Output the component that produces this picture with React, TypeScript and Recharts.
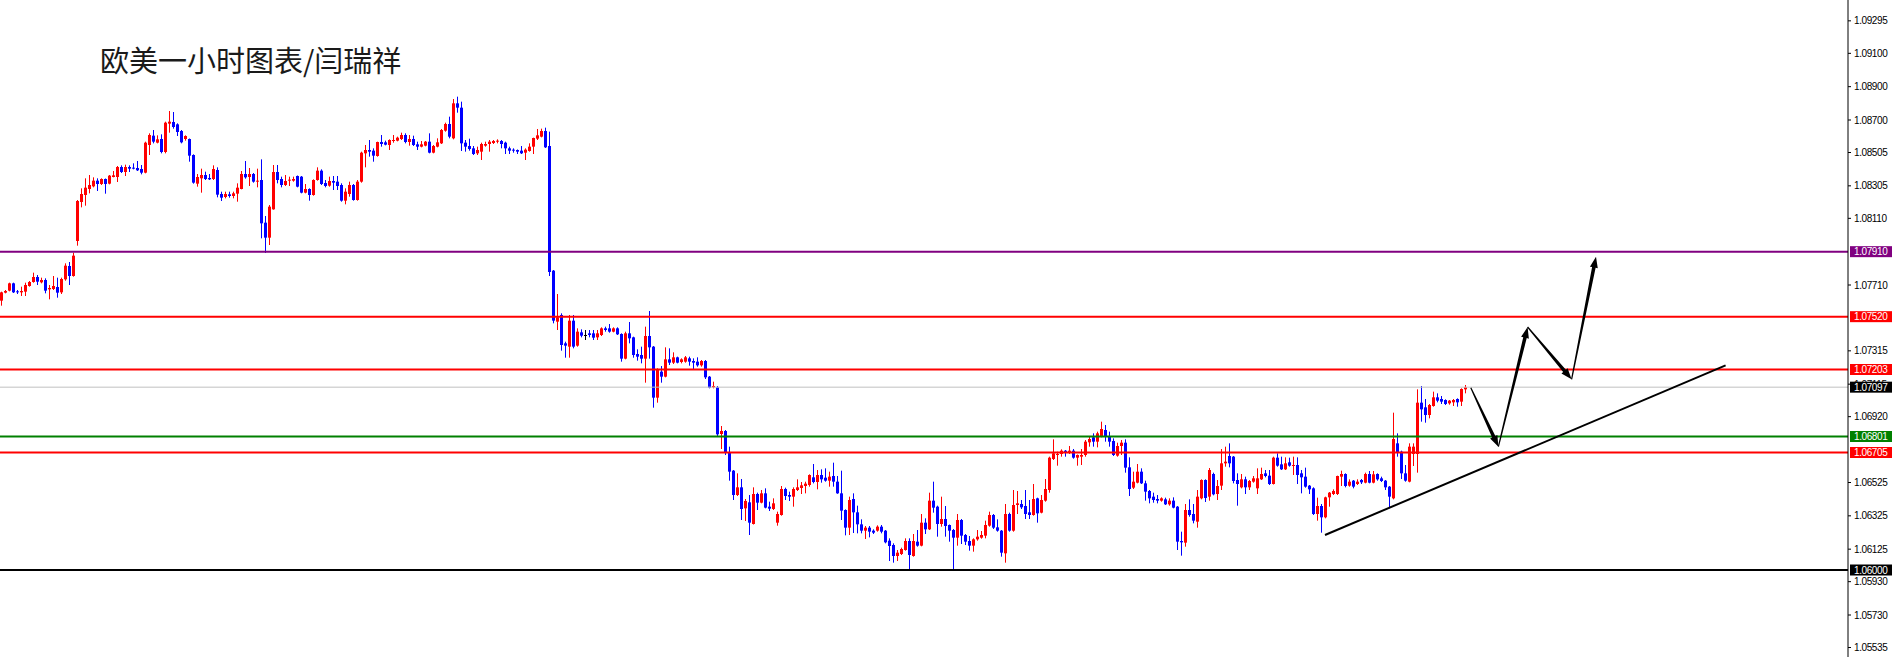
import React from 'react';
import { ComposedChart, Bar, XAxis, YAxis, ReferenceLine } from 'recharts';

// EURUSD H1 quotes in points (1 point = 0.00001), each row [open, high, low, close]
const rallyStart = [
  [107616, 107670, 107586, 107666], [107664, 107680, 107660, 107674], [107676, 107724, 107672, 107720],
  [107720, 107724, 107662, 107666], [107672, 107680, 107656, 107666], [107666, 107700, 107644, 107674],
  [107670, 107724, 107644, 107710], [107704, 107734, 107700, 107728], [107728, 107784, 107724, 107758],
  [107758, 107770, 107710, 107730], [107726, 107754, 107720, 107740], [107740, 107750, 107660, 107676],
  [107684, 107710, 107624, 107692], [107686, 107764, 107680, 107704], [107698, 107754, 107634, 107664],
  [107666, 107754, 107656, 107746], [107744, 107840, 107736, 107826], [107824, 107848, 107710, 107764],
  [107764, 107904, 107760, 107886], [107974, 108220, 107946, 108214], [108208, 108290, 108176, 108256],
  [108250, 108350, 108186, 108294], [108286, 108370, 108260, 108310], [108302, 108356, 108296, 108336],
  [108336, 108350, 108274, 108316], [108316, 108350, 108310, 108346], [108346, 108349, 108258, 108316],
  [108318, 108370, 108314, 108366], [108358, 108394, 108356, 108368], [108358, 108424, 108328, 108418],
  [108418, 108428, 108382, 108388], [108388, 108432, 108364, 108418], [108418, 108428, 108388, 108408],
  [108414, 108440, 108404, 108408], [108412, 108454, 108394, 108398], [108406, 108430, 108374, 108384],
  [108384, 108570, 108380, 108564], [108550, 108620, 108490, 108610], [108606, 108640, 108560, 108570],
  [108564, 108608, 108560, 108584], [108586, 108614, 108500, 108508], [108508, 108690, 108500, 108684],
  [108678, 108754, 108624, 108690], [108688, 108748, 108648, 108658], [108674, 108680, 108604, 108628],
  [108634, 108640, 108560, 108566], [108586, 108608, 108576, 108604], [108586, 108589, 108450, 108486],
  [108490, 108494, 108318, 108324], [108318, 108376, 108300, 108358], [108350, 108408, 108264, 108370],
  [108370, 108390, 108340, 108346], [108352, 108376, 108340, 108344], [108346, 108428, 108340, 108406],
  [108400, 108416, 108236, 108252], [108256, 108270, 108214, 108234], [108238, 108270, 108230, 108256],
  [108254, 108270, 108234, 108244], [108244, 108270, 108230, 108260], [108258, 108320, 108210, 108294],
  [108286, 108394, 108284, 108376], [108376, 108454, 108348, 108356], [108358, 108412, 108304, 108376],
  [108376, 108382, 108324, 108330], [108330, 108408, 108296, 108336],
];

const topRange = [
  [108340, 108464, 107990, 108080], [108084, 108124, 107902, 107994], [107994, 108190, 107950, 108180],
  [108164, 108430, 108162, 108388], [108388, 108430, 108320, 108340], [108346, 108360, 108296, 108310],
  [108310, 108370, 108304, 108334], [108336, 108360, 108304, 108342], [108336, 108360, 108330, 108346],
  [108364, 108367, 108296, 108300], [108360, 108364, 108260, 108264], [108264, 108316, 108260, 108286],
  [108286, 108290, 108216, 108250], [108250, 108344, 108246, 108340], [108340, 108416, 108336, 108396],
  [108396, 108404, 108310, 108316], [108322, 108340, 108296, 108304], [108306, 108360, 108300, 108334],
  [108334, 108364, 108280, 108324], [108330, 108364, 108280, 108304], [108310, 108320, 108210, 108216],
  [108216, 108290, 108194, 108270], [108256, 108330, 108240, 108310], [108310, 108316, 108216, 108220],
  [108220, 108340, 108216, 108330], [108330, 108510, 108324, 108504], [108500, 108550, 108416, 108520],
  [108520, 108580, 108480, 108510], [108516, 108530, 108450, 108486], [108484, 108570, 108480, 108568],
  [108568, 108610, 108540, 108556], [108566, 108576, 108548, 108552], [108550, 108584, 108520, 108580],
  [108574, 108610, 108564, 108580], [108576, 108600, 108572, 108594], [108586, 108624, 108580, 108610],
  [108610, 108620, 108560, 108568], [108568, 108610, 108546, 108586], [108586, 108606, 108544, 108550],
  [108554, 108570, 108520, 108540], [108540, 108574, 108536, 108554], [108546, 108574, 108542, 108570],
  [108570, 108620, 108500, 108504], [108504, 108550, 108500, 108544], [108540, 108590, 108536, 108566],
  [108560, 108646, 108556, 108640], [108636, 108684, 108630, 108676], [108676, 108720, 108590, 108600],
  [108590, 108826, 108584, 108800], [108800, 108840, 108744, 108774], [108774, 108810, 108514, 108560],
  [108564, 108580, 108510, 108540], [108544, 108588, 108516, 108526], [108530, 108544, 108490, 108496],
  [108500, 108540, 108490, 108520], [108510, 108564, 108460, 108556], [108546, 108570, 108540, 108556],
  [108556, 108580, 108510, 108570], [108562, 108580, 108556, 108574], [108570, 108584, 108560, 108576],
  [108574, 108580, 108530, 108556], [108564, 108570, 108496, 108530], [108530, 108540, 108496, 108516],
  [108522, 108530, 108504, 108516], [108520, 108523, 108496, 108510], [108516, 108544, 108496, 108500],
  [108504, 108530, 108460, 108522], [108514, 108560, 108510, 108540], [108540, 108594, 108496, 108592],
  [108588, 108646, 108580, 108608], [108600, 108648, 108596, 108634], [108634, 108654, 108532, 108536],
];

const selloff = [
  [108544, 108630, 107764, 107788], [107796, 107800, 107480, 107496], [107490, 107656, 107440, 107516],
  [107530, 107540, 107316, 107350], [107360, 107370, 107274, 107346], [107340, 107530, 107274, 107496],
  [107496, 107530, 107330, 107340], [107346, 107450, 107340, 107430], [107426, 107444, 107396, 107406],
  [107410, 107440, 107380, 107410], [107420, 107440, 107396, 107410], [107420, 107440, 107380, 107394],
  [107396, 107440, 107380, 107420], [107410, 107456, 107404, 107450], [107450, 107460, 107430, 107440],
  [107450, 107476, 107424, 107430], [107430, 107456, 107426, 107450], [107450, 107456, 107410, 107414],
  [107416, 107420, 107250, 107268], [107268, 107430, 107264, 107420], [107420, 107488, 107360, 107390],
  [107396, 107400, 107274, 107290], [107296, 107324, 107256, 107280], [107290, 107340, 107240, 107268],
  [107268, 107460, 107124, 107404], [107404, 107554, 107268, 107336], [107340, 107344, 106974, 107034],
  [107034, 107210, 107004, 107200], [107190, 107224, 107124, 107160], [107160, 107336, 107156, 107264],
  [107264, 107330, 107230, 107244], [107244, 107306, 107236, 107276], [107276, 107280, 107240, 107244],
  [107248, 107270, 107240, 107264], [107250, 107284, 107244, 107276], [107270, 107280, 107226, 107250],
  [107254, 107270, 107206, 107244], [107250, 107276, 107220, 107228], [107228, 107260, 107220, 107254],
  [107254, 107260, 107146, 107156], [107160, 107164, 107090, 107094], [107096, 107130, 107090, 107104],
  [107096, 107104, 106804, 106814], [106816, 106864, 106726, 106834], [106834, 106840, 106690, 106702],
  [106704, 106740, 106536, 106590], [106596, 106600, 106420, 106450],
];

const bottomBase = [
  [106450, 106580, 106444, 106496], [106496, 106546, 106300, 106366], [106370, 106426, 106294, 106414],
  [106406, 106450, 106210, 106284], [106276, 106496, 106273, 106456], [106456, 106464, 106360, 106404],
  [106404, 106480, 106400, 106460], [106460, 106490, 106370, 106374], [106380, 106410, 106354, 106368],
  [106366, 106430, 106360, 106400], [106284, 106350, 106266, 106336], [106330, 106504, 106326, 106486],
  [106486, 106494, 106420, 106444], [106450, 106470, 106414, 106440], [106440, 106496, 106380, 106486],
  [106480, 106544, 106474, 106496], [106492, 106528, 106456, 106508], [106504, 106530, 106460, 106518],
  [106510, 106574, 106500, 106570], [106556, 106636, 106520, 106528], [106528, 106600, 106484, 106570],
  [106570, 106604, 106524, 106544], [106554, 106610, 106530, 106536], [106536, 106590, 106500, 106560],
  [106564, 106644, 106500, 106530], [106530, 106564, 106457, 106460], [106460, 106596, 106300, 106356],
  [106360, 106364, 106208, 106254], [106254, 106440, 106210, 106420], [106426, 106460, 106222, 106346],
  [106346, 106386, 106220, 106274], [106274, 106304, 106220, 106236], [106236, 106264, 106186, 106254],
  [106254, 106264, 106196, 106230], [106236, 106244, 106216, 106224], [106236, 106268, 106230, 106260],
  [106260, 106270, 106220, 106230], [106236, 106240, 106160, 106166], [106176, 106190, 106054, 106144],
  [106150, 106160, 106044, 106084], [106084, 106120, 106054, 106104], [106096, 106134, 106090, 106126],
  [106120, 106190, 106116, 106174], [106174, 106190, 106004, 106090], [106084, 106216, 106080, 106174],
  [106170, 106240, 106140, 106146], [106146, 106336, 106142, 106284], [106284, 106310, 106216, 106244],
  [106244, 106464, 106240, 106416], [106416, 106530, 106344, 106374], [106380, 106386, 106200, 106276],
  [106276, 106440, 106260, 106306], [106306, 106384, 106200, 106264], [106270, 106273, 106170, 106236],
  [106240, 106246, 106000, 106194], [106194, 106336, 106146, 106300], [106300, 106306, 106156, 106206],
  [106210, 106216, 106150, 106170], [106174, 106204, 106116, 106146], [106146, 106190, 106110, 106184],
  [106184, 106240, 106176, 106200], [106194, 106234, 106188, 106210], [106206, 106296, 106190, 106270],
  [106266, 106350, 106260, 106330], [106330, 106336, 106246, 106254], [106256, 106304, 106230, 106236],
  [106236, 106240, 106080, 106104], [106100, 106396, 106044, 106336], [106336, 106344, 106230, 106236],
  [106236, 106480, 106230, 106390], [106390, 106474, 106336, 106400], [106396, 106420, 106366, 106376],
  [106384, 106480, 106306, 106336], [106346, 106420, 106306, 106330], [106330, 106516, 106326, 106426],
  [106430, 106434, 106284, 106340], [106344, 106450, 106340, 106420], [106416, 106546, 106410, 106486],
];

const recovery = [
  [106480, 106680, 106464, 106674], [106666, 106784, 106660, 106700], [106690, 106710, 106626, 106696],
  [106696, 106724, 106680, 106716], [106716, 106720, 106680, 106706], [106706, 106744, 106696, 106716],
  [106716, 106726, 106668, 106674], [106674, 106693, 106626, 106690], [106680, 106726, 106630, 106690],
  [106690, 106780, 106680, 106770], [106766, 106800, 106740, 106786], [106796, 106820, 106740, 106770],
  [106770, 106830, 106736, 106820], [106800, 106890, 106796, 106846], [106840, 106870, 106770, 106800],
  [106800, 106830, 106740, 106770], [106774, 106790, 106684, 106690], [106686, 106764, 106680, 106744],
  [106744, 106780, 106690, 106764], [106764, 106784, 106584, 106614], [106616, 106676, 106444, 106486],
  [106494, 106590, 106486, 106530], [106524, 106636, 106520, 106590], [106590, 106610, 106516, 106520],
  [106520, 106536, 106416, 106470], [106474, 106480, 106400, 106430], [106440, 106464, 106404, 106420],
  [106426, 106450, 106400, 106416], [106416, 106436, 106410, 106430], [106424, 106434, 106390, 106394],
  [106394, 106430, 106386, 106416], [106416, 106436, 106370, 106374], [106380, 106384, 106120, 106170],
  [106174, 106230, 106086, 106166], [106164, 106396, 106140, 106360], [106360, 106424, 106320, 106330],
  [106336, 106396, 106280, 106296], [106290, 106480, 106254, 106440], [106430, 106544, 106424, 106540],
  [106540, 106544, 106408, 106432], [106440, 106612, 106416, 106600], [106576, 106584, 106448, 106454],
  [106456, 106540, 106420, 106504], [106506, 106726, 106480, 106640], [106640, 106740, 106620, 106650],
  [106684, 106760, 106616, 106640], [106680, 106684, 106520, 106534], [106540, 106580, 106386, 106516],
  [106496, 106576, 106490, 106544], [106544, 106560, 106456, 106496], [106496, 106540, 106480, 106534],
  [106530, 106564, 106524, 106550], [106490, 106610, 106456, 106550], [106544, 106614, 106540, 106576],
  [106580, 106600, 106556, 106564], [106566, 106600, 106510, 106516], [106516, 106680, 106513, 106674],
  [106674, 106700, 106620, 106626], [106634, 106680, 106600, 106604], [106604, 106676, 106600, 106640],
  [106646, 106674, 106620, 106626], [106626, 106680, 106570, 106630], [106630, 106676, 106516, 106570],
  [106580, 106600, 106460, 106556], [106560, 106614, 106494, 106500], [106506, 106510, 106456, 106484],
  [106490, 106496, 106330, 106336], [106336, 106434, 106296, 106384], [106384, 106396, 106224, 106316],
  [106316, 106440, 106310, 106436], [106436, 106468, 106380, 106464], [106456, 106484, 106450, 106474],
  [106456, 106566, 106450, 106564], [106560, 106596, 106504, 106576], [106576, 106580, 106496, 106504],
  [106506, 106544, 106500, 106530], [106536, 106540, 106490, 106500], [106516, 106544, 106510, 106530],
  [106540, 106546, 106516, 106526], [106524, 106584, 106520, 106576], [106576, 106594, 106520, 106524],
  [106524, 106594, 106520, 106574], [106576, 106580, 106536, 106544], [106550, 106560, 106528, 106534],
  [106536, 106540, 106480, 106496], [106500, 106504, 106370, 106440], [106430, 106944, 106424, 106786],
  [106760, 106820, 106680, 106706], [106710, 106716, 106546, 106580], [106580, 106630, 106530, 106536],
  [106530, 106760, 106526, 106740], [106696, 106760, 106624, 106740], [106696, 107084, 106584, 107004],
  [107004, 107104, 106890, 106964], [106976, 107026, 106884, 106930], [106930, 106996, 106910, 106990],
  [106984, 107070, 106980, 107036], [107036, 107060, 107006, 107016], [107026, 107044, 106996, 107010],
  [107020, 107024, 106990, 106996], [107000, 107020, 106992, 107016], [107006, 107026, 106984, 107020],
  [107026, 107030, 106980, 107006], [107010, 107090, 106984, 107086], [107084, 107110, 107060, 107097],
];

// horizontal levels drawn on the chart
const levelPrices = [107910, 107520, 107203, 107097, 106801, 106705, 106000];
const levelLineColors = ['#800080', '#ff0000', '#ff0000', '#c0c0c0', '#008000', '#ff0000', '#000000'];
const levelTagColors = ['#800080', '#ff0000', '#ff0000', '#000000', '#008000', '#ff0000', '#000000'];

// price scale labels
const scaleTicks = [
  109295, 109100, 108900, 108700, 108505, 108305, 108110, 107710, 107315, 107115,
  106920, 106525, 106325, 106125, 105930, 105730, 105535,
];

// annotation: support trend line and projected path, [barIndex, price]
const trendLine = [[330.75, 106210], [430.9, 107228]];
const pathPoints = [[367.2, 107094], [374.1, 106740], [381.4, 107458], [392.4, 107144], [398.5, 107880]];

const candles = [...rallyStart, ...topRange, ...selloff, ...bottomBase, ...recovery];
const rows = candles.map(([o, h, l, c], i) => ({ i, range: [l, h], o, h, l, c }));

const tagColor: Record<number, string> = {};
levelPrices.forEach((p, k) => { tagColor[p] = levelTagColors[k]; });

const Candle = (props: any) => {
  const { x, y, height, payload } = props;
  if (!payload || x == null || y == null) return null;
  const { o, h, l, c } = payload;
  const top0 = Math.min(y, y + height);
  const hh = Math.abs(height);
  const k = h > l ? hh / (h - l) : 0;
  const yO = top0 + (h - o) * k;
  const yC = top0 + (h - c) * k;
  const color = c > o ? '#ff0000' : c < o ? '#0000ff' : '#000000';
  const left = Math.floor(x);
  const bodyTop = Math.min(yO, yC);
  const bodyH = Math.max(1, Math.abs(yO - yC));
  return (
    <g>
      <rect x={left + 1} y={top0} width={1} height={Math.max(hh, 1)} fill={color} />
      <rect x={left} y={bodyTop} width={3} height={bodyH} fill={color} />
    </g>
  );
};

const PriceTick = (props: any) => {
  const { x, y, payload } = props;
  const v = payload.value;
  const txt = (v / 100000).toFixed(5);
  const bg = tagColor[v];
  const font = { fontFamily: '"Liberation Sans", Arial, sans-serif', fontSize: 10, letterSpacing: -0.4 };
  if (bg) {
    return (
      <g>
        <rect x={x + 2} y={y - 5.5} width={42} height={11} fill={bg} />
        <text x={x + 6} y={y + 3.6} fill="#ffffff" {...font}>{txt}</text>
      </g>
    );
  }
  return (
    <g>
      <line x1={x} x2={x + 3} y1={y} y2={y} stroke="#000" />
      <text x={x + 6} y={y + 3.6} fill="#000000" {...font}>{txt}</text>
    </g>
  );
};

const arrow = (p: any) => {
  const { x1, y1, x2, y2 } = p;
  const dx = x2 - x1;
  const dy = y2 - y1;
  const len = Math.hypot(dx, dy) || 1;
  const ux = dx / len, uy = dy / len;
  const nx = -uy, ny = ux;
  const headLen = 11, w0 = 1.2, w1 = 3.6, headW = 8;
  const bx = x2 - ux * headLen, by = y2 - uy * headLen;
  const pts = [
    [x1 + nx * w0 / 2, y1 + ny * w0 / 2],
    [bx + nx * w1 / 2, by + ny * w1 / 2],
    [bx + nx * headW / 2, by + ny * headW / 2],
    [x2, y2],
    [bx - nx * headW / 2, by - ny * headW / 2],
    [bx - nx * w1 / 2, by - ny * w1 / 2],
    [x1 - nx * w0 / 2, y1 - ny * w0 / 2],
  ];
  return <polygon points={pts.map((q) => q.join(',')).join(' ')} fill="#000" />;
};

export default function App() {
  return (
    <div style={{ position: 'absolute', left: 0, top: 0, width: 1892, height: 657, background: '#fff' }}>
      <ComposedChart width={1892} height={657} data={rows} margin={{ top: 0, right: 0, bottom: 0, left: 0 }}>
        <XAxis dataKey="i" type="number" domain={[-0.5, 461.5]} allowDataOverflow hide />
        <YAxis
          orientation="right"
          type="number"
          domain={[105478, 109420]}
          allowDataOverflow
          ticks={[...scaleTicks, ...levelPrices]}
          interval={0}
          width={44}
          tickSize={0}
          tickMargin={0}
          tickLine={false}
          axisLine={{ stroke: '#000' }}
          tick={<PriceTick />}
        />
        <Bar dataKey="range" barSize={3} shape={<Candle />} isAnimationActive={false} />
        {levelPrices.map((p, k) => (
          <ReferenceLine
            key={p}
            y={p}
            stroke={levelLineColors[k]}
            strokeWidth={k === 3 ? 1 : 2}
          />
        ))}
        <ReferenceLine
          segment={[{ x: trendLine[0][0], y: trendLine[0][1] }, { x: trendLine[1][0], y: trendLine[1][1] }]}
          stroke="#000"
          strokeWidth={2}
        />
        {pathPoints.slice(1).map((pt, k) => (
          <ReferenceLine
            key={k}
            segment={[{ x: pathPoints[k][0], y: pathPoints[k][1] }, { x: pt[0], y: pt[1] }]}
            shape={arrow}
          />
        ))}
      </ComposedChart>
      <div
        style={{
          position: 'absolute',
          left: 100,
          top: 41,
          fontFamily: '"Noto Sans CJK SC", sans-serif',
          fontSize: 29,
          lineHeight: '36px',
          color: '#1a1a1a',
          whiteSpace: 'nowrap',
        }}
      >
        欧美一小时图表/闫瑞祥
      </div>
    </div>
  );
}
